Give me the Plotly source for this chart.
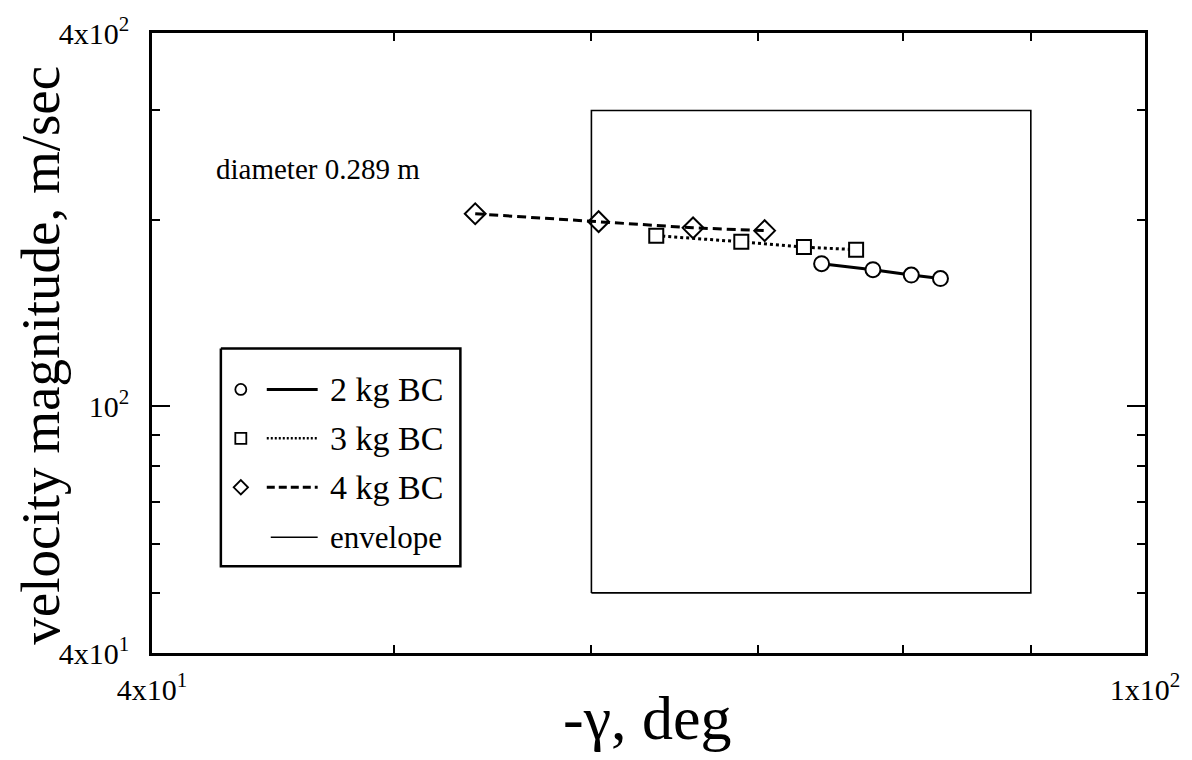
import plotly.graph_objects as go

# ---- data ----
gamma_2kg = [74.2, 77.8, 80.6, 82.8]
vel_2kg = [169.8, 166.1, 162.8, 160.7]

gamma_3kg = [63.7, 68.9, 73.0, 76.6]
vel_3kg = [188.4, 184.2, 180.6, 178.9]

gamma_4kg = [53.9, 60.4, 65.9, 70.4]
vel_4kg = [204.4, 198.5, 194.0, 192.0]

env_gamma = [60, 90, 90, 60, 60]
env_vel = [50, 50, 300, 300, 50]

x_tickvals = [40, 100]
x_ticktext = ["4x10<sup>1</sup>", "1x10<sup>2</sup>"]
x_minor = [50, 60, 70, 80, 90]
y_tickvals = [40, 100, 400]
y_ticktext = ["4x10<sup>1</sup>", "10<sup>2</sup>", "4x10<sup>2</sup>"]
y_minor = [50, 60, 70, 80, 90, 200, 300]

legend_labels = ["2 kg BC", "3 kg BC", "4 kg BC", "envelope"]

FONT = "Liberation Serif, Times New Roman, serif"
BLACK = "#000000"

fig = go.Figure()

fig.add_trace(go.Scatter(x=env_gamma, y=env_vel, mode="lines",
                         line=dict(color=BLACK, width=1.6), showlegend=False))
fig.add_trace(go.Scatter(x=gamma_4kg, y=vel_4kg, mode="lines+markers",
                         line=dict(color=BLACK, width=3, dash="9px,5px"),
                         marker=dict(symbol="diamond-open", size=16, color=BLACK,
                                     line=dict(width=2)), showlegend=False))
fig.add_trace(go.Scatter(x=gamma_3kg, y=vel_3kg, mode="lines+markers",
                         line=dict(color=BLACK, width=3, dash="3px,3px"),
                         marker=dict(symbol="square", size=14, color="white",
                                     line=dict(width=2, color=BLACK)), showlegend=False))
fig.add_trace(go.Scatter(x=gamma_2kg, y=vel_2kg, mode="lines+markers",
                         line=dict(color=BLACK, width=3),
                         marker=dict(symbol="circle", size=15, color="white",
                                     line=dict(width=2, color=BLACK)), showlegend=False))

# ---- custom legend on an overlay pixel-like axis ----
L, R, T, B = 152, 1147, 32, 653
fig.update_layout(
    xaxis2=dict(overlaying="x", range=[L, R], visible=False, fixedrange=True),
    yaxis2=dict(overlaying="y", range=[B, T], visible=False, fixedrange=True),
)
box_x = [221, 461, 461, 221, 221]
box_y = [348, 348, 566, 566, 348]
fig.add_trace(go.Scatter(x=box_x, y=box_y, xaxis="x2", yaxis="y2", mode="lines",
                         line=dict(color=BLACK, width=2.5), showlegend=False,
                         hoverinfo="skip"))
rows_y = [389, 438, 487, 537]
symbols = ["circle-open", "square-open", "diamond-open", None]
dashes = ["solid", "2px,2px", "8px,4px", "solid"]
widths = [3, 2.5, 3, 1.5]
for i, lab in enumerate(legend_labels):
    yy = rows_y[i]
    if symbols[i]:
        fig.add_trace(go.Scatter(x=[241], y=[yy], xaxis="x2", yaxis="y2", mode="markers",
                                 marker=dict(symbol=symbols[i], size=11, color=BLACK,
                                             line=dict(width=1.8)),
                                 showlegend=False, hoverinfo="skip"))
    x0 = 267 if i < 3 else 271
    fig.add_trace(go.Scatter(x=[x0, 318], y=[yy, yy], xaxis="x2", yaxis="y2", mode="lines",
                             line=dict(color=BLACK, width=widths[i], dash=dashes[i]),
                             showlegend=False, hoverinfo="skip"))
    fig.add_annotation(x=328, y=yy, xref="x2", yref="y2", text=lab, showarrow=False,
                       xanchor="left", yanchor="middle",
                       font=dict(family=FONT, size=34 if i < 3 else 31, color=BLACK))

fig.add_annotation(x=318, y=168, xref="x2", yref="y2", text="diameter 0.289 m",
                   showarrow=False, xanchor="center", yanchor="middle",
                   font=dict(family=FONT, size=29, color=BLACK))

# axis titles (paper coordinates computed from pixel positions)
fig.add_annotation(x=(40 - L) / (R - L), y=(B - 355) / (B - T), xref="paper", yref="paper",
                   text="velocity magnitude, m/sec",
                   showarrow=False, textangle=-90, xanchor="center", yanchor="middle",
                   font=dict(family=FONT, size=55, color=BLACK))
fig.add_annotation(x=(648 - L) / (R - L), y=(B - 718) / (B - T), xref="paper", yref="paper",
                   text="-\u03b3, deg",
                   showarrow=False, xanchor="center", yanchor="middle",
                   font=dict(family=FONT, size=62, color=BLACK))

axis_common = dict(
    showline=True, linecolor=BLACK, linewidth=2.5, mirror="ticks",
    ticks="inside", tickcolor=BLACK, tickwidth=2,
    showgrid=False, zeroline=False,
    tickfont=dict(family=FONT, size=30, color=BLACK),
)
fig.layout.xaxis.update(type="log", range=[1.60206, 2.0], tickmode="array",
                        tickvals=x_tickvals, ticktext=x_ticktext, ticklen=14,
                        ticklabelstandoff=8,
                        minor=dict(tickmode="array", tickvals=x_minor, ticks="inside",
                                   ticklen=8, tickcolor=BLACK, tickwidth=2, showgrid=False),
                        **axis_common)
fig.layout.yaxis.update(type="log", range=[1.60206, 2.60206], tickmode="array",
                        tickvals=y_tickvals, ticktext=y_ticktext, ticklen=18,
                        ticklabelstandoff=14,
                        minor=dict(tickmode="array", tickvals=y_minor, ticks="inside",
                                   ticklen=8, tickcolor=BLACK, tickwidth=2, showgrid=False),
                        **axis_common)

fig.update_layout(
    width=1192, height=760,
    margin=dict(l=L, r=1192 - R, t=T, b=760 - B),
    plot_bgcolor="white", paper_bgcolor="white",
    showlegend=False,
    font=dict(family=FONT, color=BLACK),
)

fig.write_html("out.html")
